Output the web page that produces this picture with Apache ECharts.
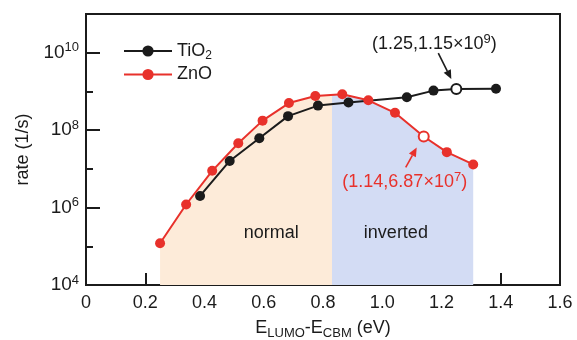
<!DOCTYPE html>
<html>
<head>
<meta charset="utf-8">
<script src="https://cdn.jsdelivr.net/npm/echarts@6/dist/echarts.min.js"></script>
<style>
  html, body { margin: 0; padding: 0; background: #fff; }
  #chart { width: 577px; height: 340px; }
</style>
</head>
<body>
<div id="chart"></div>
<script>
// 数据
const tio2X = [0.385, 0.485, 0.585, 0.682, 0.783, 0.886, 1.083, 1.173, 1.25, 1.384];
const tio2Y = [2.0e6, 1.6e7, 6.2e7, 2.3e8, 4.3e8, 5.2e8, 7.1e8, 1.05e9, 1.15e9, 1.17e9];
const znoX = [0.25, 0.338, 0.426, 0.514, 0.596, 0.685, 0.774, 0.865, 0.953, 1.043, 1.14, 1.218, 1.307];
const znoY = [1.2e5, 1.2e6, 8.9e6, 4.6e7, 1.76e8, 5.0e8, 7.6e8, 8.5e8, 5.9e8, 2.8e8, 6.87e7, 2.7e7, 1.3e7];
const tio2Open = 1.25;   // 空心点
const znoOpen = 1.14;
const regionSplit = 0.83; // normal / inverted 分界
const xTickLabels = ['0', '0.2', '0.4', '0.6', '0.8', '1.0', '1.2', '1.4', '1.6'];
const regionLabels = [
  { text: 'normal', x: 0.625, y: 2.2e5 },
  { text: 'inverted', x: 1.046, y: 2.2e5 },
];

const BLACK = '#1b1b1b';
const RED = '#e8312b';
const ORANGE = '#fdebd9';
const BLUE = '#d3dcf4';
const FONT = 'Liberation Sans, Arial, Helvetica, sans-serif';
const FS = 18;
const FS_SMALL = 12;

const chart = echarts.init(document.getElementById('chart'));

const toData = (xs, ys, openX, color) =>
  xs.map((x, i) => {
    if (x === openX) {
      return {
        value: [x, ys[i]],
        itemStyle: { color: '#fff', borderColor: color, borderWidth: 2 },
      };
    }
    return [x, ys[i]];
  });

const option = {
  animation: false,
  grid: {
    left: 86, right: 17, top: 14, bottom: 55,
    outerBoundsMode: 'none', containLabel: false,
    show: true, borderColor: BLACK, borderWidth: 2, backgroundColor: 'transparent',
  },
  legend: {
    data: ['TiO2', 'ZnO'],
    orient: 'vertical',
    left: 118, top: 37,
    itemWidth: 48, itemHeight: 14, itemGap: 4,
    textStyle: {
      fontFamily: FONT, fontSize: FS, color: BLACK,
      rich: { sub: { fontFamily: FONT, fontSize: FS_SMALL, color: BLACK, verticalAlign: 'bottom', padding: [9, 0, 0, 0] } },
    },
    formatter: (name) => (name === 'TiO2' ? 'TiO{sub|2}' : name),
  },
  xAxis: {
    type: 'value', min: 0, max: 1.6, interval: 0.2,
    name: 'E{sub|LUMO}-E{sub|CBM} (eV)',
    nameLocation: 'middle', nameGap: 32,
    nameTextStyle: {
      fontFamily: FONT, fontSize: FS, color: BLACK,
      rich: { sub: { fontFamily: FONT, fontSize: FS_SMALL + 1, color: BLACK, verticalAlign: 'bottom', padding: [10, 0, 0, 0] } },
    },
    axisLine: { lineStyle: { color: BLACK, width: 2 } },
    axisTick: { inside: true, length: 12, lineStyle: { color: BLACK, width: 2 } },
    axisLabel: {
      fontFamily: FONT, fontSize: FS, color: BLACK, margin: 9,
      formatter: (v) => xTickLabels[Math.round(v / 0.2)],
    },
    splitLine: { show: false },
  },
  yAxis: [
    {
      type: 'log', logBase: 10, min: 1e4, max: 1e11, interval: 2,
      name: 'rate (1/s)', nameLocation: 'middle', nameGap: 52,
      nameTextStyle: { fontFamily: FONT, fontSize: FS, color: BLACK },
      axisLine: { lineStyle: { color: BLACK, width: 2 } },
      axisTick: { inside: true, length: 14, lineStyle: { color: BLACK, width: 2 } },
      axisLabel: {
        margin: 7, showMaxLabel: false,
        fontFamily: FONT, fontSize: FS + 1, color: BLACK,
        formatter: (v) => '10{sup|' + Math.round(Math.log10(v)) + '}',
        rich: { sup: { fontFamily: FONT, fontSize: FS_SMALL + 1, color: BLACK, verticalAlign: 'top', padding: [0, 0, 10, 0] } },
      },
      splitLine: { show: false },
    },
    {
      type: 'log', logBase: 10, min: 1e4, max: 1e11, interval: 1, position: 'left',
      axisLine: { show: false },
      axisTick: { inside: true, length: 7, lineStyle: { color: BLACK, width: 2 } },
      axisLabel: { show: false },
      splitLine: { show: false },
    },
  ],
  series: [
    {
      name: 'region', type: 'line', z: 1,
      data: znoX.map((x, i) => [x, znoY[i]]),
      symbol: 'none', silent: true,
      lineStyle: { width: 0, opacity: 0 },
      areaStyle: { origin: 'start', opacity: 1, color: ORANGE },
    },
    {
      name: 'TiO2', type: 'line', z: 3,
      data: toData(tio2X, tio2Y, tio2Open, BLACK),
      color: BLACK,
      symbol: 'circle', symbolSize: 10,
      lineStyle: { color: BLACK, width: 2 },
      itemStyle: { color: BLACK },
    },
    {
      name: 'ZnO', type: 'line', z: 4,
      data: toData(znoX, znoY, znoOpen, RED),
      color: RED,
      symbol: 'circle', symbolSize: 10,
      lineStyle: { color: RED, width: 2 },
      itemStyle: { color: RED },
    },
  ],
};

chart.setOption(option);

// 区域填充：按分界点切换颜色
const gx0 = chart.convertToPixel({ xAxisIndex: 0 }, 0);
const gx1 = chart.convertToPixel({ xAxisIndex: 0 }, 1.6);
const gs = (chart.convertToPixel({ xAxisIndex: 0 }, regionSplit) - gx0) / (gx1 - gx0);
chart.setOption({
  series: [{
    name: 'region',
    areaStyle: {
      color: new echarts.graphic.LinearGradient(gx0, 0, gx1, 0, [
        { offset: 0, color: ORANGE },
        { offset: gs, color: ORANGE },
        { offset: gs, color: BLUE },
        { offset: 1, color: BLUE },
      ], true),
    },
  }],
});

// 标注：箭头 + 文本
const arrow = (from, to, color) => {
  const dx = to[0] - from[0], dy = to[1] - from[1];
  const len = Math.sqrt(dx * dx + dy * dy);
  const ux = dx / len, uy = dy / len;
  const hl = 9, hw = 4;
  const bx = to[0] - ux * hl, by = to[1] - uy * hl;
  return [
    { type: 'line', shape: { x1: from[0], y1: from[1], x2: bx, y2: by }, style: { stroke: color, lineWidth: 1.6 }, z: 10 },
    {
      type: 'polygon', z: 10,
      shape: { points: [to, [bx - uy * hw, by + ux * hw], [bx + uy * hw, by - ux * hw]] },
      style: { fill: color },
    },
  ];
};

const pT = chart.convertToPixel({ xAxisIndex: 0, yAxisIndex: 0 }, [tio2Open, tio2Y[tio2X.indexOf(tio2Open)]]);
const pZ = chart.convertToPixel({ xAxisIndex: 0, yAxisIndex: 0 }, [znoOpen, znoY[znoX.indexOf(znoOpen)]]);

const annoText = (text, x, y, color) => ({
  type: 'text', z: 10, x: x, y: y,
  style: {
    text: text, fill: color, align: 'center', verticalAlign: 'middle',
    font: FS + 'px ' + FONT,
    rich: { sup: { font: (FS_SMALL + 1) + 'px ' + FONT, fill: color, verticalAlign: 'top', padding: [0, 0, 10, 0] } },
  },
});

const graphics = [
  ...arrow([pT[0] - 18, pT[1] - 36], [pT[0] - 5, pT[1] - 10], BLACK),
  ...arrow([pZ[0] - 18, pZ[1] + 31], [pZ[0] - 7, pZ[1] + 11], RED),
  annoText('(1.25,1.15×10{sup|9})', pT[0] - 22, pT[1] - 45, BLACK),
  annoText('(1.14,6.87×10{sup|7})', pZ[0] - 19, pZ[1] + 46, RED),
];

regionLabels.forEach((r) => {
  const p = chart.convertToPixel({ xAxisIndex: 0, yAxisIndex: 0 }, [r.x, r.y]);
  graphics.push({
    type: 'text', z: 10, x: p[0], y: p[1],
    style: { text: r.text, fill: BLACK, align: 'center', verticalAlign: 'middle', font: FS + 'px ' + FONT },
  });
});

chart.setOption({ graphic: graphics });
</script>
</body>
</html>
